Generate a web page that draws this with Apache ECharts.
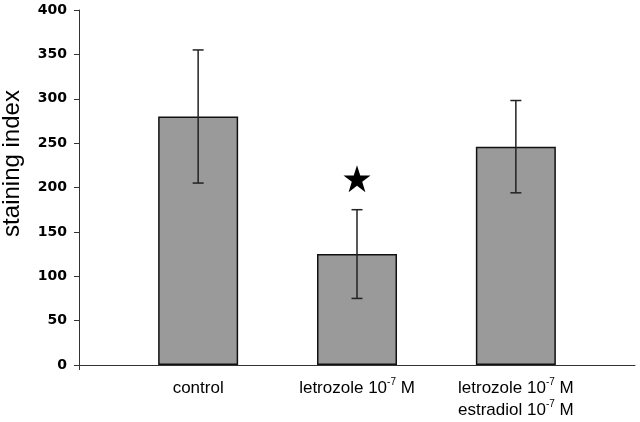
<!DOCTYPE html>
<html>
<head>
<meta charset="utf-8">
<script src="https://cdn.jsdelivr.net/npm/echarts@6/dist/echarts.min.js"></script>
<style>html,body{margin:0;padding:0;background:#fff}#c{width:640px;height:422px}</style>
</head>
<body>
<div id="c"></div>
<script>
const categories = ['control', 'letrozole 10{sup|-7} M', 'letrozole 10{sup|-7} M\nestradiol 10{sup|-7} M'];
const positions = [1, 2, 3];
const means = [280, 125, 246];
const errLow = [205, 75, 194];
const errHigh = [355, 175, 298];
const starValues = [null, 210, null];
const yTicks = [0, 50, 100, 150, 200, 250, 300, 350, 400];

const chart = echarts.init(document.getElementById('c'), null, {renderer: 'canvas'});
const font = '"Liberation Sans", Arial, sans-serif';
const starPath = 'path://M50,0 L61.8,35.5 L99,35.5 L69,57.5 L80.5,93 L50,71 L19.5,93 L31,57.5 L1,35.5 L38.2,35.5 Z';

chart.setOption({
  backgroundColor: '#fff',
  animation: false,
  grid: {left: 79, right: 5, top: 10, bottom: 57, containLabel: false, outerBoundsMode: 'none'},
  xAxis: {
    type: 'value', min: 0.25, max: 3.75,
    splitLine: {show: false},
    axisLine: {show: true, lineStyle: {color: '#333', width: 1}},
    axisTick: {show: true, customValues: [0.25], length: 5, lineStyle: {color: '#333'}},
    axisLabel: {
      customValues: positions,
      margin: 12,
      fontFamily: font, fontSize: 17, color: '#000', lineHeight: 22,
      formatter: v => { const i = positions.indexOf(v); return i >= 0 ? categories[i] : ''; },
      rich: {sup: {fontSize: 10, fontFamily: font, color: '#000', verticalAlign: 'top', padding: [0, 0, 9, 0]}}
    }
  },
  yAxis: {
    type: 'value', min: 0, max: 400, interval: 50,
    name: 'staining index', nameLocation: 'middle', nameGap: 55,
    nameTextStyle: {fontFamily: font, fontSize: 24, color: '#000', padding: [0, 0, 0, 48]},
    splitLine: {show: false},
    axisLine: {show: true, lineStyle: {color: '#333', width: 1}},
    axisTick: {show: true, inside: false, length: 5, lineStyle: {color: '#333'}},
    axisLabel: {margin: 12, fontFamily: '"DejaVu Sans", sans-serif', fontSize: 14, fontWeight: 'bold', color: '#000',
      formatter: v => yTicks.includes(v) ? String(v) : ''}
  },
  series: [
    {
      type: 'bar', barWidth: 80,
      data: positions.map((p, i) => [p, means[i]]),
      itemStyle: {color: '#9a9a9a', borderColor: '#111', borderWidth: 1.5}
    },
    {
      type: 'custom',
      data: positions.map((p, i) => [p, errLow[i], errHigh[i]]),
      renderItem: (params, api) => {
        const lo = api.coord([api.value(0), api.value(1)]);
        const hi = api.coord([api.value(0), api.value(2)]);
        const hw = 5.5;
        const st = {stroke: '#222', lineWidth: 1.5};
        return {type: 'group', children: [
          {type: 'line', shape: {x1: hi[0], y1: hi[1], x2: lo[0], y2: lo[1]}, style: st},
          {type: 'line', shape: {x1: hi[0]-hw, y1: hi[1], x2: hi[0]+hw, y2: hi[1]}, style: st},
          {type: 'line', shape: {x1: lo[0]-hw, y1: lo[1], x2: lo[0]+hw, y2: lo[1]}, style: st}
        ]};
      },
      z: 5
    },
    {
      type: 'scatter',
      data: positions.map((p, i) => starValues[i] == null ? null : [p, starValues[i]]).filter(d => d),
      symbol: starPath, symbolSize: [27, 27],
      itemStyle: {color: '#000', opacity: 1}
    }
  ]
});
</script>
</body>
</html>
